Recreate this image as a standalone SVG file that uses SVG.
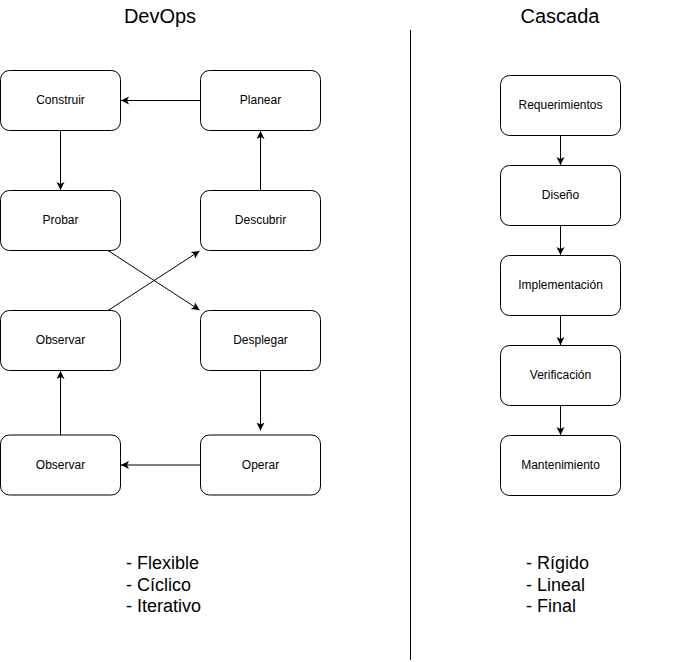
<svg xmlns="http://www.w3.org/2000/svg" width="681" height="662" viewBox="0 0 681 662">
<defs>
<marker id="arr" markerUnits="userSpaceOnUse" markerWidth="10" markerHeight="10" refX="8" refY="4" orient="auto">
<path d="M0,0 L8,4 L0,8 L2,4 Z" fill="#000"/>
</marker>
<style>
.box{fill:#fff;stroke:#000;stroke-width:1}
.lbl{font-family:"Liberation Sans",Arial,sans-serif;font-size:12px;fill:#000;text-anchor:middle;dominant-baseline:central}
.edge{fill:none;stroke:#000;stroke-width:1;marker-end:url(#arr)}
.title{font-family:"Liberation Sans",Arial,sans-serif;font-size:20px;fill:#000;text-anchor:middle}
.bul{font-family:"Liberation Sans",Arial,sans-serif;font-size:18px;fill:#000}
</style>
</defs>
<rect width="681" height="662" fill="#fff"/>
<text class="title" x="160" y="23">DevOps</text>
<text class="title" x="560" y="23">Cascada</text>
<line x1="410.5" y1="30" x2="410.5" y2="660" stroke="#000"/>
<g id="connectors">
<path class="edge" d="M200,100.5 L121,100.5"/>
<path class="edge" d="M60.5,130.5 L60.5,190"/>
<path class="edge" d="M260.5,190 L260.5,131"/>
<path class="edge" d="M108,250.5 L199.5,310"/>
<path class="edge" d="M108,310.5 L199.5,251"/>
<path class="edge" d="M260.5,370.5 L260.5,430.5"/>
<path class="edge" d="M200,465 L121,465"/>
<path class="edge" d="M60.5,435 L60.5,371"/>
<path class="edge" d="M560.5,135.5 L560.5,165"/>
<path class="edge" d="M560.5,225.5 L560.5,255"/>
<path class="edge" d="M560.5,315.5 L560.5,345"/>
<path class="edge" d="M560.5,405.5 L560.5,435"/>
</g>
<g id="construir"><rect class="box" x="0.5" y="70.5" width="120" height="60" rx="9"/><text class="lbl" x="60.5" y="99.5">Construir</text></g>
<g id="planear"><rect class="box" x="200.5" y="70.5" width="120" height="60" rx="9"/><text class="lbl" x="260.5" y="99.5">Planear</text></g>
<g id="probar"><rect class="box" x="0.5" y="190.5" width="120" height="60" rx="9"/><text class="lbl" x="60.5" y="219.5">Probar</text></g>
<g id="descubrir"><rect class="box" x="200.5" y="190.5" width="120" height="60" rx="9"/><text class="lbl" x="260.5" y="219.5">Descubrir</text></g>
<g id="observar1"><rect class="box" x="0.5" y="310.5" width="120" height="60" rx="9"/><text class="lbl" x="60.5" y="339.5">Observar</text></g>
<g id="desplegar"><rect class="box" x="200.5" y="310.5" width="120" height="60" rx="9"/><text class="lbl" x="260.5" y="339.5">Desplegar</text></g>
<g id="observar2"><rect class="box" x="0.5" y="435" width="120" height="60" rx="9"/><text class="lbl" x="60.5" y="465">Observar</text></g>
<g id="operar"><rect class="box" x="200.5" y="435" width="120" height="60" rx="9"/><text class="lbl" x="260.5" y="465">Operar</text></g>
<g id="requerimientos"><rect class="box" x="500.5" y="75.5" width="120" height="60" rx="9"/><text class="lbl" x="560.5" y="104.5">Requerimientos</text></g>
<g id="diseno"><rect class="box" x="500.5" y="165.5" width="120" height="60" rx="9"/><text class="lbl" x="560.5" y="194.5">Diseño</text></g>
<g id="implementacion"><rect class="box" x="500.5" y="255.5" width="120" height="60" rx="9"/><text class="lbl" x="560.5" y="284.5">Implementación</text></g>
<g id="verificacion"><rect class="box" x="500.5" y="345.5" width="120" height="60" rx="9"/><text class="lbl" x="560.5" y="374.5">Verificación</text></g>
<g id="mantenimiento"><rect class="box" x="500.5" y="435.5" width="120" height="60" rx="9"/><text class="lbl" x="560.5" y="464.5">Mantenimiento</text></g>
<g id="devops-notes">
<text class="bul" x="126" y="569">- Flexible</text>
<text class="bul" x="126" y="591">- Cíclico</text>
<text class="bul" x="126" y="612">- Iterativo</text>
</g>
<g id="cascada-notes">
<text class="bul" x="526" y="569">- Rígido</text>
<text class="bul" x="526" y="591">- Lineal</text>
<text class="bul" x="526" y="612">- Final</text>
</g>
</svg>
